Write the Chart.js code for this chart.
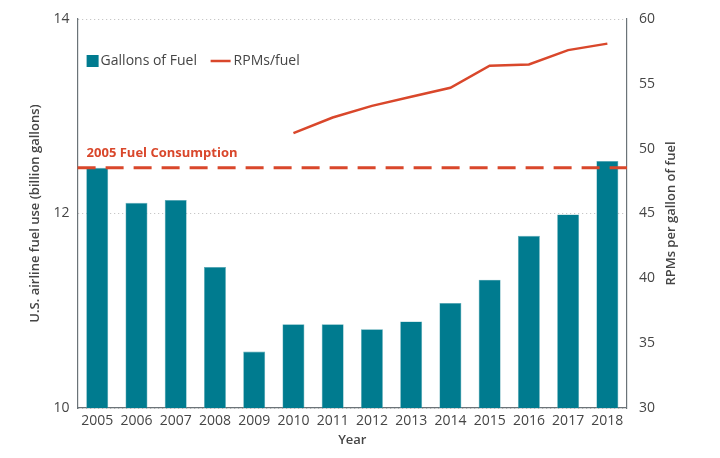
<!DOCTYPE html>
<html>
<head>
<meta charset="utf-8">
<script src="https://cdn.jsdelivr.net/npm/chart.js@4"></script>
<style>
  html, body { margin: 0; padding: 0; background: #fff; }
  .wrap { position: relative; width: 720px; height: 458px; }
</style>
</head>
<body>
<div class="wrap"><canvas id="fuelChart"></canvas></div>
<script>
/* dados */
const years    = ['2005','2006','2007','2008','2009','2010','2011','2012','2013','2014','2015','2016','2017','2018'];
const gallons  = [12.47, 12.11, 12.14, 11.45, 10.58, 10.86, 10.86, 10.81, 10.89, 11.08, 11.32, 11.77, 11.99, 12.54];
const rpmsFuel = [null, null, null, null, null, 51.2, 52.4, 53.3, 54.0, 54.7, 56.4, 56.5, 57.6, 58.1];
const fuel2005 = 12.47;
const leftTicks  = [10, 12, 14];
const rightTicks = [30, 35, 40, 45, 50, 55, 60];

const TEAL = '#007b8f';
const RED  = '#d9472b';
const TXT  = '#454545';
const FONT = "'Open Sans', sans-serif";

/* linha tracejada de 2005, legenda interna e título do eixo direito */
const overlay = {
  id: 'overlay',
  afterDatasetsDraw(chart) {
    const { ctx, chartArea: a, scales } = chart;
    const y = scales.y.getPixelForValue(fuel2005);
    ctx.save();
    ctx.strokeStyle = RED;
    ctx.lineWidth = 3;
    ctx.setLineDash([18, 10]);
    ctx.beginPath();
    ctx.moveTo(a.left, y);
    ctx.lineTo(a.right, y);
    ctx.stroke();
    ctx.setLineDash([]);

    ctx.fillStyle = RED;
    ctx.font = `bold 13px ${FONT}`;
    ctx.textBaseline = 'middle';
    ctx.fillText('2005 Fuel Consumption', a.left + 9, y - 14);

    // legenda
    const ly = a.top + 42;
    ctx.fillStyle = TEAL;
    ctx.fillRect(a.left + 9, ly - 6, 12, 12);
    ctx.fillStyle = TXT;
    ctx.font = `14px ${FONT}`;
    ctx.fillText('Gallons of Fuel', a.left + 23, ly);
    ctx.strokeStyle = RED;
    ctx.lineWidth = 2.5;
    ctx.beginPath();
    ctx.moveTo(a.left + 133, ly);
    ctx.lineTo(a.left + 153, ly);
    ctx.stroke();
    ctx.fillText('RPMs/fuel', a.left + 156, ly);

    // título eixo direito (lido de baixo para cima)
    ctx.translate(a.right + 44, (a.top + a.bottom) / 2);
    ctx.rotate(-Math.PI / 2);
    ctx.textAlign = 'center';
    ctx.font = `600 13px ${FONT}`;
    ctx.fillText('RPMs per gallon of fuel', 0, 0);
    ctx.restore();
  }
};

new Chart(document.getElementById('fuelChart'), {
  data: {
    labels: years,
    datasets: [
      {
        type: 'line',
        label: 'RPMs/fuel',
        data: rpmsFuel,
        yAxisID: 'y1',
        borderColor: RED,
        borderWidth: 2.5,
        pointRadius: 0,
        tension: 0,
        order: 0
      },
      {
        type: 'bar',
        label: 'Gallons of Fuel',
        data: gallons,
        yAxisID: 'y',
        backgroundColor: TEAL,
        borderColor: '#5aaab5',
        borderWidth: 0.6,
        barPercentage: 0.56,
        categoryPercentage: 1,
        order: 1
      }
    ]
  },
  options: {
    responsive: true,
    maintainAspectRatio: false,
    animation: false,
    layout: { padding: { top: 5, right: 53, left: 23, bottom: 6 } },
    plugins: { legend: { display: false }, tooltip: { enabled: false } },
    scales: {
      x: {
        grid: { display: false, drawTicks: false },
        border: { display: true, color: '#6b7378', width: 1.2 },
        ticks: { color: TXT, font: { family: FONT, size: 14, lineHeight: 1 }, padding: 6 },
        title: { display: true, text: 'Year', color: TXT, font: { family: FONT, size: 13, weight: '600', lineHeight: 1 }, padding: { top: 0, bottom: 5 } }
      },
      y: {
        position: 'left',
        min: 10, max: 14,
        afterBuildTicks: s => { s.ticks = leftTicks.map(v => ({ value: v })); },
        grid: { color: '#bbbbbb', lineWidth: 1, drawTicks: false },
        border: { display: true, color: '#6b7378', width: 1.2, dash: [1, 3] },
        ticks: { color: TXT, font: { family: FONT, size: 14, lineHeight: 1 }, padding: 8 },
        title: { display: true, text: 'U.S. airline fuel use (billion gallons)', color: TXT, font: { family: FONT, size: 13, weight: '600' }, padding: { top: 4, bottom: 3 } }
      },
      y1: {
        position: 'right',
        min: 30, max: 60,
        afterBuildTicks: s => { s.ticks = rightTicks.map(v => ({ value: v })); },
        grid: { display: false, drawTicks: false },
        border: { display: true, color: '#6b7378', width: 1.2 },
        ticks: { color: TXT, font: { family: FONT, size: 14, lineHeight: 1 }, padding: 12 }
      }
    }
  },
  plugins: [overlay]
});
</script>
</body>
</html>
